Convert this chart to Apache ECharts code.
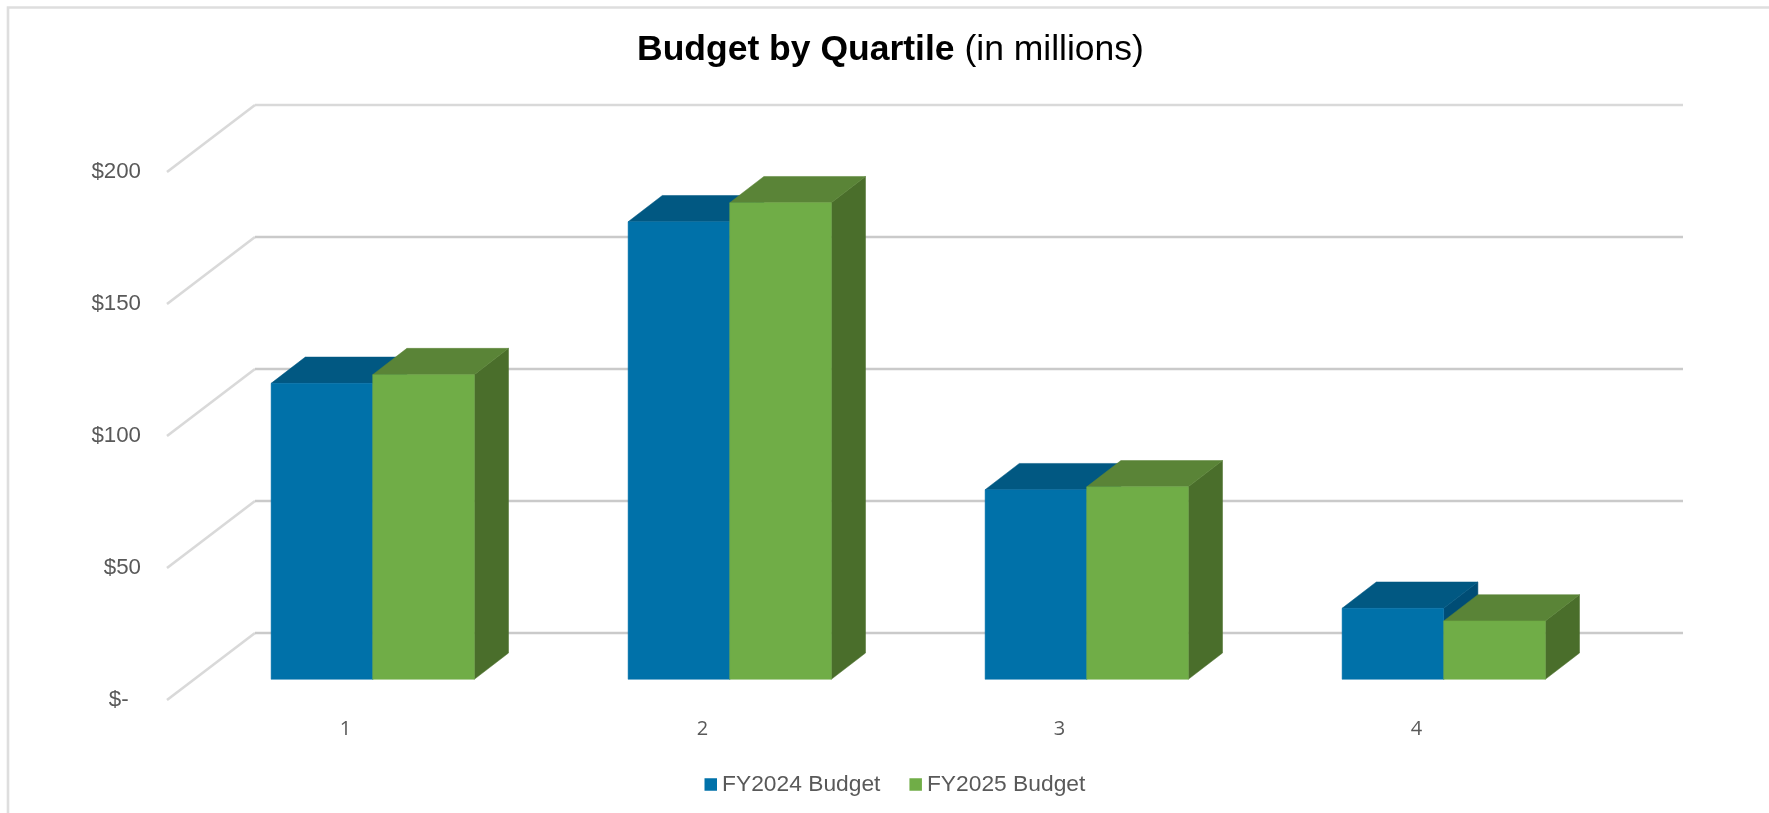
<!DOCTYPE html>
<html>
<head>
<meta charset="utf-8">
<title>Budget by Quartile</title>
<script src="https://cdn.jsdelivr.net/npm/echarts@6/dist/echarts.min.js"></script>
<style>
  html, body { margin: 0; padding: 0; background: #ffffff; }
  #chart { width: 1769px; height: 813px; }
</style>
</head>
<body>
<div id="chart"></div>
<script>
// Budget figures in millions of dollars, one value per quartile.
const quartiles = ['1', '2', '3', '4'];
const fy2024Budget = [112.1, 173.3, 71.8, 26.9];
const fy2025Budget = [115.4, 180.5, 72.9, 22.1];
const budgetTicks = [0, 50, 100, 150, 200];

// Projection of the box depth: walls sit at the far end, bars float mid-floor.
const WALL_DX = 88, WALL_DY = -67;
const BAR_FRONT_DX = 27.2, BAR_FRONT_DY = -20.7;
const BAR_DEPTH_DX = 34.2, BAR_DEPTH_DY = -26.3;
const BAR_BAND_RATIO = 101.6 / 357;
const FONT = '"Liberation Sans", Arial, sans-serif';

function toPairs(values) {
  return values.map((v, i) => [i, v]);
}

// Draws one 3D column: front face, top face and right side face.
function columnRenderer(side, colors) {
  return function (params, api) {
    const pos = api.coord([api.value(0), api.value(1)]);
    const base = api.coord([api.value(0), 0]);
    const w = api.size([1, 0])[0] * BAR_BAND_RATIO;
    const x0 = pos[0] + BAR_FRONT_DX + (side < 0 ? -w : 0);
    const x1 = x0 + w;
    const top = pos[1] + BAR_FRONT_DY;
    const bottom = base[1] + BAR_FRONT_DY;
    const dx = BAR_DEPTH_DX, dy = BAR_DEPTH_DY;
    const face = (points, fill) => ({
      type: 'polygon',
      shape: { points: points },
      style: { fill: fill, stroke: fill, lineWidth: 0.5 }
    });
    return {
      type: 'group',
      children: [
        face([[x1, top], [x1 + dx, top + dy], [x1 + dx, bottom + dy], [x1, bottom]], colors.side),
        face([[x0, top], [x0 + dx, top + dy], [x1 + dx, top + dy], [x1, top]], colors.top),
        face([[x0, top], [x1, top], [x1, bottom], [x0, bottom]], colors.front)
      ]
    };
  };
}

// Gridlines run along the back wall and fold forward down the side wall.
function renderGridline(params, api) {
  const cs = params.coordSys;
  const value = api.value(0);
  const y = api.coord([0, value])[1];
  const backY = y + WALL_DY;
  const backX = cs.x + WALL_DX;
  const backColor = value === 200 ? '#d9d9d9' : '#cacaca';
  return {
    type: 'group',
    children: [
      {
        type: 'line',
        shape: { x1: cs.x, y1: y, x2: backX, y2: backY },
        style: { stroke: '#d9d9d9', lineWidth: 2.6 }
      },
      {
        type: 'line',
        shape: { x1: backX, y1: backY, x2: backX + cs.width, y2: backY },
        style: { stroke: backColor, lineWidth: 2.4 }
      }
    ]
  };
}

const chart = echarts.init(document.getElementById('chart'), null, { renderer: 'canvas' });

chart.setOption({
  animation: false,
  backgroundColor: '#ffffff',
  graphic: [{
    type: 'polyline',
    silent: true,
    shape: { points: [[8, 820], [8, 7.5], [1780, 7.5]] },
    style: { fill: null, stroke: '#dedede', lineWidth: 2.6 }
  }],
  title: {
    left: 632,
    top: 27,
    text: '{b|Budget by Quartile} {r|(in millions)}',
    textStyle: {
      fontFamily: FONT,
      fontSize: 35.5,
      fontWeight: 'normal',
      color: '#000000',
      rich: {
        b: { fontFamily: FONT, fontSize: 35.5, fontWeight: 'bold', color: '#000000' },
        r: { fontFamily: FONT, fontSize: 35.5, fontWeight: 'normal', color: '#000000' }
      }
    }
  },
  legend: {
    left: 699.5,
    top: 768,
    icon: 'rect',
    itemWidth: 12.5,
    itemHeight: 12.5,
    itemGap: 29,
    data: ['FY2024 Budget', 'FY2025 Budget'],
    textStyle: { fontFamily: FONT, fontSize: 22.8, color: '#595959' }
  },
  grid: { left: 167, top: 172, width: 1428, height: 528 },
  xAxis: {
    type: 'category',
    data: quartiles,
    axisLine: { show: false },
    axisTick: { show: false },
    axisLabel: {
      margin: 19,
      fontFamily: '"Open Sans", sans-serif',
      fontSize: 20,
      color: '#595959'
    }
  },
  yAxis: {
    type: 'value',
    min: 0,
    max: 200,
    interval: 50,
    axisLine: { show: false },
    axisTick: { show: false },
    splitLine: { show: false },
    axisLabel: {
      margin: 26,
      fontFamily: FONT,
      fontSize: 22.3,
      color: '#595959',
      formatter: v => (v === 0 ? '$-  ' : '$' + v)
    }
  },
  series: [
    {
      type: 'custom',
      name: 'Gridlines',
      silent: true,
      clip: false,
      data: budgetTicks.map(v => [v]),
      encode: { y: 0 },
      renderItem: renderGridline,
      z: 1
    },
    {
      type: 'custom',
      name: 'FY2024 Budget',
      clip: false,
      data: toPairs(fy2024Budget),
      encode: { x: 0, y: 1 },
      itemStyle: { color: '#0071a9' },
      renderItem: columnRenderer(-1, { front: '#0071a9', top: '#015882', side: '#004d75' }),
      z: 2
    },
    {
      type: 'custom',
      name: 'FY2025 Budget',
      clip: false,
      data: toPairs(fy2025Budget),
      encode: { x: 0, y: 1 },
      itemStyle: { color: '#70ad47' },
      renderItem: columnRenderer(1, { front: '#70ad47', top: '#5a8437', side: '#4a6e2b' }),
      z: 3
    }
  ]
});
</script>
</body>
</html>
